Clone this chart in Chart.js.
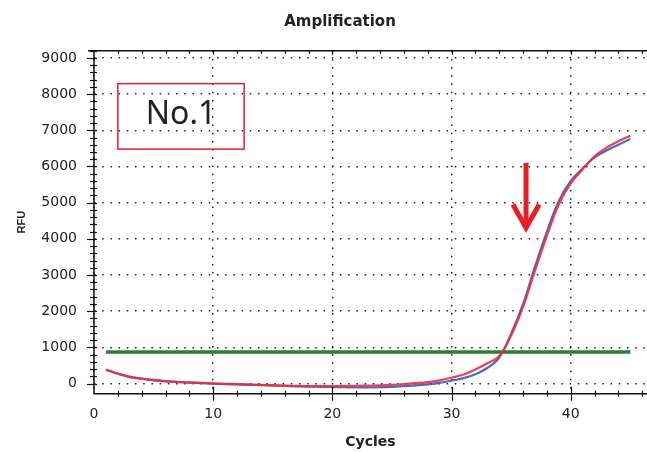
<!DOCTYPE html>
<html>
<head>
<meta charset="utf-8">
<script src="https://cdn.jsdelivr.net/npm/chart.js@4/dist/chart.umd.min.js"></script>
<style>
  html, body { margin: 0; padding: 0; background: #fff; }
  #caixa { width: 647px; height: 452px; position: relative; }
</style>
</head>
<body>
<div id="caixa"><canvas id="grafico"></canvas></div>
<script>
// DADOS

const ciclos = [1, 2, 3, 4, 5, 6, 7, 8, 9, 10, 11, 12, 13, 14, 15, 16, 17, 18, 19, 20, 21, 22, 23,
  24, 25, 26, 27, 28, 29, 30, 31, 32, 33, 34, 35, 36, 37, 38, 39, 40, 41, 42, 43, 44, 45];

const rfuVermelho = [390, 280, 190, 140, 100, 70, 50, 35, 20, 5, -5, -15, -25, -35, -45, -55, -65, -70,
  -70, -70, -65, -60, -55, -50, -35, -15, 10, 40, 90, 160, 250, 390, 560, 760, 1330, 2120, 3120,
  4080, 4950, 5530, 5920, 6280, 6520, 6700, 6850];

const rfuAzul = [380, 270, 180, 130, 90, 60, 40, 25, 10, -5, -15, -25, -35, -45, -55, -65, -75, -85,
  -90, -95, -100, -105, -105, -100, -90, -70, -50, -20, 20, 80, 150, 260, 430, 720, 1380, 2200, 3230,
  4200, 5050, 5600, 5950, 6250, 6440, 6600, 6760];

const limiar = 870;
const limiarInicio = 1;
const limiarFim = 45;

const ticksX = [0, 10, 20, 30, 40];
const ticksY = [0, 1000, 2000, 3000, 4000, 5000, 6000, 7000, 8000, 9000];

const titulo = 'Amplification';
const tituloX = 'Cycles';
const tituloY = 'RFU';
const rotulo = 'No.1';


// grafico

Chart.defaults.font.family = "'DejaVu Sans', sans-serif";
Chart.defaults.color = '#222';

// eixos, marcas e anotacoes desenhados por cima
const moldura = {
  id: 'moldura',
  afterDraw(chart) {
    const { ctx, chartArea: a, scales: { x, y } } = chart;
    ctx.save();
    ctx.strokeStyle = '#111';
    ctx.lineWidth = 1.5;
    ctx.beginPath();
    ctx.moveTo(a.left, a.top);
    ctx.lineTo(a.left, a.bottom);
    ctx.lineTo(a.right, a.bottom);
    ctx.moveTo(a.left - 6, a.top);
    ctx.lineTo(a.right, a.top);
    ctx.stroke();

    ctx.lineWidth = 1.2;
    for (let v = 0; v <= 9200; v += 200) {
      const py = Math.round(y.getPixelForValue(v)) + 0.5;
      const maior = v % 1000 === 0;
      ctx.beginPath();
      ctx.moveTo(a.left - (maior ? 7 : 4), py);
      ctx.lineTo(a.left + 3, py);
      ctx.stroke();
    }
    for (let c = 2; c <= 46; c += 2) {
      const px = Math.round(x.getPixelForValue(c)) + 0.5;
      const maior = c % 10 === 0;
      ctx.beginPath();
      ctx.moveTo(px, a.bottom - (maior ? 7 : 3));
      ctx.lineTo(px, a.bottom + (maior ? 7 : 3));
      ctx.moveTo(px, a.top);
      ctx.lineTo(px, a.top + (maior ? 4 : 3));
      ctx.stroke();
    }

    // titulo
    ctx.fillStyle = '#222';
    ctx.font = "bold 15px 'DejaVu Sans'";
    ctx.textAlign = 'center';
    ctx.textBaseline = 'middle';
    ctx.fillText(titulo, 340, 22);

    // caixa No.1
    ctx.strokeStyle = '#e3232b';
    ctx.lineWidth = 1.5;
    const bx0 = x.getPixelForValue(2.0), bx1 = x.getPixelForValue(12.6);
    const by0 = y.getPixelForValue(8290), by1 = y.getPixelForValue(6480);
    ctx.strokeRect(bx0, by0, bx1 - bx0, by1 - by0);
    ctx.font = "32px 'Noto Sans'";
    ctx.textBaseline = 'alphabetic';
    ctx.fillText(rotulo, x.getPixelForValue(7.3), y.getPixelForValue(7170));

    // seta vermelha
    ctx.strokeStyle = '#ea1c24';
    ctx.lineWidth = 5;
    ctx.lineJoin = 'miter';
    const sx = x.getPixelForValue(36.25);
    ctx.beginPath();
    ctx.moveTo(sx, y.getPixelForValue(6100));
    ctx.lineTo(sx, y.getPixelForValue(4350));
    ctx.stroke();
    ctx.beginPath();
    ctx.moveTo(x.getPixelForValue(35.15), y.getPixelForValue(4950));
    ctx.lineTo(sx, y.getPixelForValue(4300));
    ctx.lineTo(x.getPixelForValue(37.35), y.getPixelForValue(4950));
    ctx.stroke();
    ctx.restore();
  }
};

const pontos = (serie) => ciclos.map((c, i) => ({ x: c, y: serie[i] }));

const grafico = new Chart(document.getElementById('grafico'), {
  type: 'line',
  data: {
    datasets: [
      {
        label: 'Poço 1',
        data: pontos(rfuVermelho),
        borderColor: 'rgba(238, 45, 55, 0.9)',
        borderWidth: 2.2,
        pointRadius: 0,
        tension: 0.4
      },
      {
        label: 'Poço 2',
        data: pontos(rfuAzul),
        borderColor: 'rgba(60, 85, 200, 0.9)',
        borderWidth: 2.2,
        pointRadius: 0,
        tension: 0.4
      },
      {
        label: 'Limiar',
        data: [{ x: limiarInicio, y: limiar }, { x: limiarFim, y: limiar }],
        borderColor: '#2e7d36',
        borderWidth: 3.5,
        pointRadius: 0
      }
    ]
  },
  options: {
    responsive: true,
    maintainAspectRatio: false,
    animation: false,
    layout: { padding: { top: 50.7, left: 0, right: 0, bottom: 0 } },
    scales: {
      x: {
        type: 'linear',
        min: 0,
        max: 46.4,
        afterBuildTicks: (s) => { s.ticks = ticksX.map(v => ({ value: v })); },
        afterFit: (s) => { s.height = 58.3; },
        grid: {
          color: '#222',
          lineWidth: 1.5,
          drawTicks: false
        },
        border: { display: false, dash: [1.5, 6.7] },
        ticks: {
          padding: 12,
          font: { size: 14 },
          color: '#222',
          maxRotation: 0,
          callback: (v) => String(v)
        },
        title: {
          display: true,
          text: tituloX,
          font: { size: 14, weight: 'bold' },
          color: '#222',
          padding: { top: 0, bottom: 1 }
        }
      },
      y: {
        min: -280,
        max: 9200,
        afterBuildTicks: (s) => { s.ticks = ticksY.map(v => ({ value: v })); },
        afterFit: (s) => { s.width = 94; },
        grid: {
          color: '#222',
          lineWidth: 1.5,
          drawTicks: false
        },
        border: { display: false, dash: [1.5, 6.7] },
        ticks: {
          padding: 17,
          font: { size: 14 },
          color: '#222',
          callback: (v) => String(v)
        },
        title: {
          display: true,
          text: tituloY,
          font: { family: "'Liberation Sans'", size: 11, weight: 'bold' },
          color: '#222',
          padding: { top: 15, bottom: 0 }
        }
      }
    },
    plugins: {
      legend: { display: false },
      title: { display: false },
      tooltip: { enabled: false }
    }
  },
  plugins: [moldura]
});
</script>
</body>
</html>
